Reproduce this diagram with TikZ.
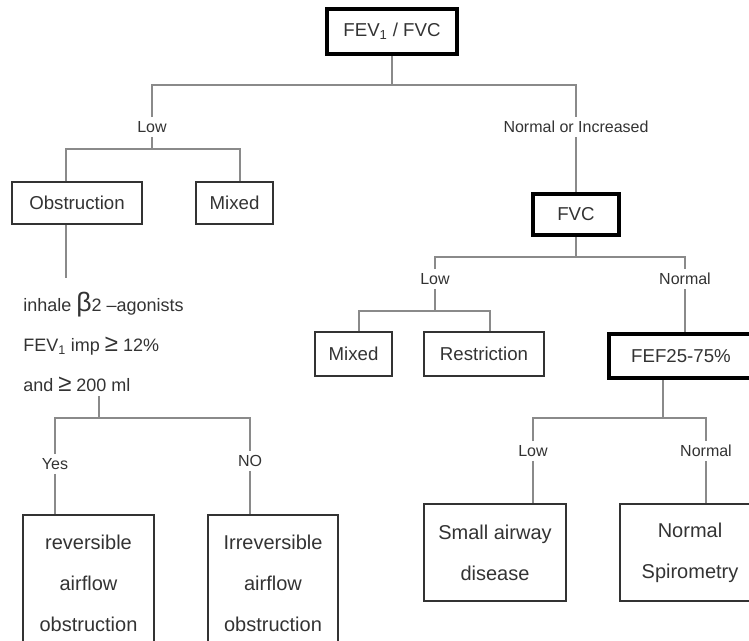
\documentclass[tikz,border=0pt]{standalone}
\usepackage{fontspec}
\setmainfont{Liberation Sans}
\usetikzlibrary{positioning}
\definecolor{spiroInk}{HTML}{333333}
\definecolor{spiroLine}{HTML}{8A8A8A}

\tikzset{
  box/.style={draw=spiroInk,line width=1pt,inner sep=0pt,align=center,
              text=spiroInk,font=\fontsize{14}{16}\selectfont},
  keybox/.style={box,draw=black,line width=3.4pt},
  tallbox/.style={box,font=\fontsize{15}{30.75}\selectfont},
  lbl/.style={text=spiroInk,font=\fontsize{12}{14}\selectfont,inner sep=3pt,fill=white},
  link/.style={draw=spiroLine,line width=1pt},
}
\newcommand{\bigge}{{\fontsize{18}{18}\selectfont ≥}}

\begin{document}
\begin{tikzpicture}[x=0.75pt,y=-0.75pt]
  \useasboundingbox (0,0) rectangle (749,641);
  \clip (0,0) rectangle (749,641);

  % first split on the ratio
  \node[keybox,minimum width=97.5pt,minimum height=33.75pt] (ratio) at (392,31.5)
    {FEV\textsubscript{1} / FVC};
  \node[lbl] (low) at (152,127) {Low};
  \node[lbl] (nori) at (576,127) {Normal or Increased};
  \coordinate (b0) at (392,85);
  \draw[link] (ratio) -- (b0);
  \draw[link] (low) |- (b0) -| (nori);

  % low ratio
  \node[box,minimum width=97.5pt,minimum height=31.5pt] (obst) at (77,203) {Obstruction};
  \node[box,minimum width=57.75pt,minimum height=31.5pt] (mixA) at (234.5,203) {Mixed};
  \coordinate (b1l) at (66,149);
  \coordinate (b1r) at (240,149);
  \draw[link] (low) -- (low |- b1l);
  \draw[link] (obst.north -| b1l) |- (b1r) -- (b1r |- mixA.north);

  \node[anchor=north west,align=left,inner sep=0pt,text=spiroInk,
        font=\fontsize{13.5}{30}\selectfont] (bd) at (23,292)
    {inhale {\fontsize{20}{20}\selectfont β}2 –agonists\\
     FEV\textsubscript{1} imp \bigge{} 12\%\\
     and \bigge{} 200 ml};
  \coordinate (s1) at (66,278);
  \draw[link] (obst.south -| b1l) -- (s1);

  \coordinate (s2) at (99,396);
  \coordinate (b2) at (99,418);
  \node[lbl] (yes) at (55,464) {Yes};
  \node[lbl] (no) at (250,461) {NO};
  \node[tallbox,minimum width=98.25pt,minimum height=102pt] (rev) at (88.5,583)
    {reversible\\airflow\\obstruction};
  \node[tallbox,minimum width=97.5pt,minimum height=102pt] (irrev) at (273,583)
    {Irreversible\\airflow\\obstruction};
  \draw[link] (s2) -- (b2);
  \draw[link] (yes) |- (b2) -| (no);
  \draw[link] (yes) -- (yes |- rev.north);
  \draw[link] (no) -- (no |- irrev.north);

  % normal or increased ratio
  \node[keybox,minimum width=64.5pt,minimum height=30.75pt] (fvc) at (576,214.5) {FVC};
  \draw[link] (nori) -- (fvc);
  \node[lbl] (low2) at (435,279) {Low};
  \node[lbl] (norm2) at (685,279) {Normal};
  \coordinate (b3) at (576,257);
  \draw[link] (fvc) -- (b3);
  \draw[link] (low2) |- (b3) -| (norm2);

  \node[box,minimum width=57.75pt,minimum height=33pt] (mixB) at (353.5,354) {Mixed};
  \node[box,minimum width=90pt,minimum height=33pt] (restr) at (484,354) {Restriction};
  \coordinate (b4l) at (359,311);
  \coordinate (b4r) at (490,311);
  \draw[link] (low2) -- (low2 |- b4l);
  \draw[link] (mixB.north -| b4l) |- (b4r) -- (b4r |- restr.north);

  \node[keybox,minimum width=108pt,minimum height=33pt] (fef) at (681,356) {FEF25-75\%};
  \draw[link] (norm2) -- (norm2 |- fef.north);
  \coordinate (b5) at (663,418);
  \draw[link] (fef.south -| b5) -- (b5);
  \node[lbl] (low3) at (533,451) {Low};
  \node[lbl] (norm3) at (706,451) {Normal};
  \draw[link] (low3) |- (b5) -| (norm3);

  \node[tallbox,minimum width=106.5pt,minimum height=72.75pt] (small) at (495,552.5)
    {Small airway\\disease};
  \node[tallbox,minimum width=105pt,minimum height=72.75pt] (normsp) at (690,552.5)
    {Normal\\Spirometry};
  \draw[link] (low3) -- (low3 |- small.north);
  \draw[link] (norm3) -- (norm3 |- normsp.north);
\end{tikzpicture}
\end{document}
